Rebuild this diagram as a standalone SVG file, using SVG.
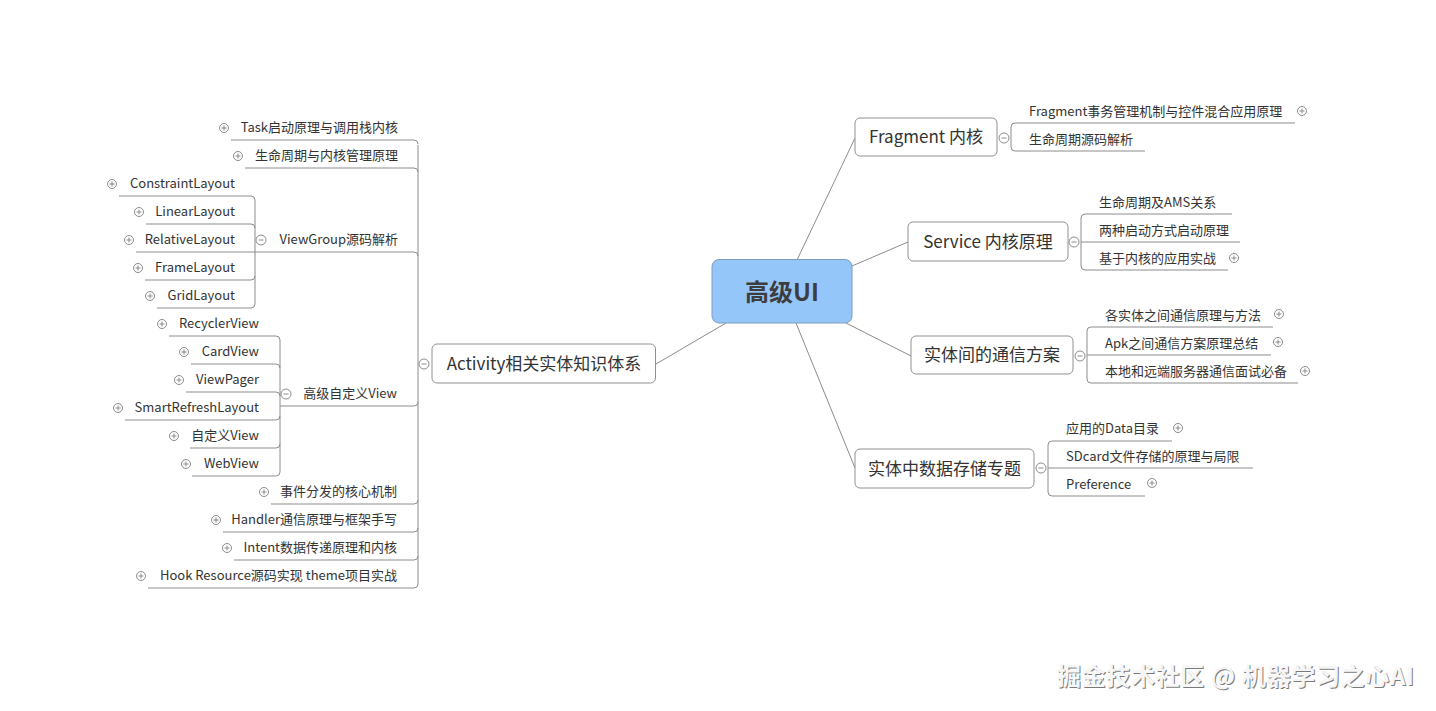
<svg xmlns="http://www.w3.org/2000/svg" width="1436" height="711" viewBox="0 0 1436 711">
<style>
text{font-family:"Microsoft YaHei","Noto Sans CJK SC","Noto Sans",sans-serif;fill:#333}
.c{font-size:13px}
.m{font-size:17px;text-anchor:middle}
.l{text-anchor:end}
.ln{fill:none;stroke:#8c8c8c;stroke-width:1}
.box{fill:#fff;stroke:#909090;stroke-width:1}
.ic{fill:#fff;stroke:#8c8c8c;stroke-width:1}
.wm{font-size:24px;font-weight:bold}
</style>
<defs>
<g id="plus"><circle class="ic" r="4.5"/><path class="ln" d="M-2.5,0H2.5M0,-2.5V2.5"/></g>
<g id="minus"><circle class="ic" r="5"/><path class="ln" d="M-2.5,0H2.5"/></g>
</defs>
<rect width="1436" height="711" fill="#fff"/>

<g id="connectors">
<path class="ln" d="M797,260L855,138M852,266L908,242M846,323L911,356M796,323L855,468M726,323L656,364"/>
<path class="ln" d="M418,145V584"/>
<path class="ln" d="M231,140H414Q418,140 418,144M245,168H414Q418,168 418,172M255,252H414Q418,252 418,256M280,406H414Q418,406 418,402M271,504H414Q418,504 418,500M223,532H414Q418,532 418,528M234,560H414Q418,560 418,556M148,588H414Q418,588 418,584"/>
<path class="ln" d="M255,200V304"/>
<path class="ln" d="M119,196H251Q255,196 255,200M146,224H251Q255,224 255,228M136,252H255M145,280H251Q255,280 255,276M157,308H251Q255,308 255,304"/>
<path class="ln" d="M280,340V472"/>
<path class="ln" d="M169,336H276Q280,336 280,340M191,364H276Q280,364 280,368M186,392H276Q280,392 280,396M125,420H276Q280,420 280,416M190,448H276Q280,448 280,444M192,476H276Q280,476 280,472"/>
<path class="ln" d="M1011,127V147M1295,123H1015Q1011,123 1011,127M1145,151H1015Q1011,151 1011,147"/>
<path class="ln" d="M1081,218V266M1232,214H1085Q1081,214 1081,218M1081,242H1240M1228,270H1085Q1081,270 1081,266"/>
<path class="ln" d="M1087,331V379M1273,327H1091Q1087,327 1087,331M1087,355H1271M1298,383H1091Q1087,383 1087,379"/>
<path class="ln" d="M1048,445V492M1172,441H1052Q1048,441 1048,445M1048,468H1253M1145,496H1052Q1048,496 1048,492"/>
</g>

<g id="center">
<rect x="712" y="259.5" width="140" height="63.5" rx="7" fill="#95c6fa" stroke="#7f9cbc"/>
<text x="782" y="301" text-anchor="middle" style="font-size:24px;font-weight:bold;fill:#3d3d3d">高级UI</text>
</g>

<g id="activity">
<rect class="box" x="432" y="344" width="223.5" height="39" rx="5"/>
<text class="m" x="544" y="370">Activity相关实体知识体系</text>
<use href="#minus" x="424" y="364"/>
</g>
<g id="task"><use href="#plus" x="224" y="128"/><text class="c l" x="398" y="132">Task启动原理与调用栈内核</text></g>
<g id="lifecycle"><use href="#plus" x="238" y="156"/><text class="c l" x="398" y="160">生命周期与内核管理原理</text></g>
<g id="viewgroup"><use href="#minus" x="261" y="240"/><text class="c l" x="398" y="244">ViewGroup源码解析</text></g>
<g id="constraint"><use href="#plus" x="112" y="184"/><text class="c l" x="235" y="188">ConstraintLayout</text></g>
<g id="linear"><use href="#plus" x="139" y="212"/><text class="c l" x="235" y="216">LinearLayout</text></g>
<g id="relative"><use href="#plus" x="129" y="240"/><text class="c l" x="235" y="244">RelativeLayout</text></g>
<g id="frame"><use href="#plus" x="138" y="268"/><text class="c l" x="235" y="272">FrameLayout</text></g>
<g id="grid"><use href="#plus" x="150" y="296"/><text class="c l" x="235" y="300">GridLayout</text></g>
<g id="customview"><use href="#minus" x="286" y="394"/><text class="c l" x="397" y="398">高级自定义View</text></g>
<g id="recycler"><use href="#plus" x="162" y="324"/><text class="c l" x="259" y="328">RecyclerView</text></g>
<g id="card"><use href="#plus" x="184" y="352"/><text class="c l" x="259" y="356">CardView</text></g>
<g id="pager"><use href="#plus" x="179" y="380"/><text class="c l" x="259" y="384">ViewPager</text></g>
<g id="smart"><use href="#plus" x="118" y="408"/><text class="c l" x="259" y="412">SmartRefreshLayout</text></g>
<g id="zdy"><use href="#plus" x="174" y="436"/><text class="c l" x="259" y="440">自定义View</text></g>
<g id="web"><use href="#plus" x="186" y="464"/><text class="c l" x="259" y="468">WebView</text></g>
<g id="event"><use href="#plus" x="264" y="492"/><text class="c l" x="397" y="496">事件分发的核心机制</text></g>
<g id="handler"><use href="#plus" x="216" y="520"/><text class="c l" x="397" y="524">Handler通信原理与框架手写</text></g>
<g id="intent"><use href="#plus" x="227" y="548"/><text class="c l" x="397" y="552">Intent数据传递原理和内核</text></g>
<g id="hook"><use href="#plus" x="141" y="576"/><text class="c l" x="397" y="580">Hook Resource源码实现 theme项目实战</text></g>

<g id="fragment">
<rect class="box" x="855" y="118" width="142" height="38" rx="5"/>
<text class="m" x="926" y="143">Fragment 内核</text>
<use href="#minus" x="1004" y="138"/>
</g>
<g id="frag1"><text class="c" x="1029" y="116">Fragment事务管理机制与控件混合应用原理</text><use href="#plus" x="1302" y="111"/></g>
<g id="frag2"><text class="c" x="1029" y="144">生命周期源码解析</text></g>

<g id="service">
<rect class="box" x="908" y="222" width="160" height="39" rx="5"/>
<text class="m" x="988" y="248">Service 内核原理</text>
<use href="#minus" x="1074" y="242"/>
</g>
<g id="svc1"><text class="c" x="1099" y="207">生命周期及AMS关系</text></g>
<g id="svc2"><text class="c" x="1099" y="235">两种启动方式启动原理</text></g>
<g id="svc3"><text class="c" x="1099" y="263">基于内核的应用实战</text><use href="#plus" x="1234" y="258"/></g>

<g id="comm">
<rect class="box" x="911" y="336" width="162" height="38" rx="5"/>
<text class="m" x="992" y="361">实体间的通信方案</text>
<use href="#minus" x="1080" y="356"/>
</g>
<g id="comm1"><text class="c" x="1105" y="320">各实体之间通信原理与方法</text><use href="#plus" x="1279" y="314"/></g>
<g id="comm2"><text class="c" x="1105" y="348">Apk之间通信方案原理总结</text><use href="#plus" x="1278" y="342"/></g>
<g id="comm3"><text class="c" x="1105" y="376">本地和远端服务器通信面试必备</text><use href="#plus" x="1305" y="371"/></g>

<g id="storage">
<rect class="box" x="855" y="449" width="179" height="39" rx="5"/>
<text class="m" x="944.5" y="475">实体中数据存储专题</text>
<use href="#minus" x="1041" y="468"/>
</g>
<g id="st1"><text class="c" x="1066" y="433">应用的Data目录</text><use href="#plus" x="1178" y="428"/></g>
<g id="st2"><text class="c" x="1066" y="461">SDcard文件存储的原理与局限</text></g>
<g id="st3"><text class="c" x="1066" y="489">Preference</text><use href="#plus" x="1152" y="483"/></g>

<g id="watermark">
<text class="wm" x="1058" y="686" textLength="357" lengthAdjust="spacing" style="fill:#7a7a7a">掘金技术社区 @ 机器学习之心AI</text>
<text class="wm" x="1057" y="685" textLength="357" lengthAdjust="spacing" style="fill:#f6f6f6">掘金技术社区 @ 机器学习之心AI</text>
</g>
</svg>
